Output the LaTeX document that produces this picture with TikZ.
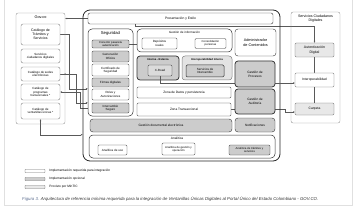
\documentclass[tikz,border=0pt]{standalone}
\usepackage{fontspec}
\setmainfont{Liberation Sans}
\usetikzlibrary{arrows.meta,backgrounds}

\definecolor{figblue}{RGB}{95,112,145}

\tikzset{
  box/.style={draw=black!80, rectangle, rounded corners=1.2pt, fill=white, align=center,
    inner sep=0pt, line width=0.4pt, font=\fontsize{3}{3.5}\selectfont},
  optbox/.style={box, fill=black!20},
  minticbox/.style={box, fill=black!9},
  heavy/.style={line width=0.75pt, rounded corners=3pt},
  groupbox/.style={draw=black!80, rectangle, rounded corners=4pt, line width=0.5pt},
  sidebox/.style={draw=black!45, rectangle, rounded corners=2pt, line width=0.35pt},
  sidecell/.style={box, draw=black!50, rounded corners=2pt},
  grouptitle/.style={anchor=north, inner sep=0pt, align=center, font=\fontsize{3.2}{3.8}\selectfont},
  link/.style={draw=black!65, line width=0.3pt},
}

\begin{document}
\begin{tikzpicture}[x=1pt, y=-1pt, >={Stealth[length=2pt,width=1.6pt]}]
    \useasboundingbox (0,0) rectangle (358,211);
    % Cadre de page
    \draw[black!12, line width=0.5pt] (4,0) -- (4,205) -- (352,205) -- (352,0);

    % Gov.co
    \node[sidebox, minimum width=49pt, minimum height=111pt] (gov) at (40.5,68.5) {};
    \node[grouptitle, font=\fontsize{3.8}{4.2}\selectfont] (govT) at ([yshift=-3pt]gov.north) {Gov.co};
    \node[sidecell, minimum width=39pt, minimum height=21pt, font=\fontsize{3.5}{4.2}\selectfont] (tram) at (40.5,34.5) {Catálogo de\\Trámites y\\Servicios};
    \node[sidecell, minimum width=39pt, minimum height=14pt] (scd) at (40.5,56) {Servicios\\ciudadanos digitales};
    \node[sidecell, minimum width=39pt, minimum height=14pt] (sedes) at (40.5,74) {Catálogo de sedes\\electrónicas};
    \node[sidecell, minimum width=39pt, minimum height=16pt] (prog) at (40.5,92) {Catálogo de\\programas\\transversales *};
    \node[sidecell, minimum width=39pt, minimum height=16pt] (vent) at (40.5,111) {Catálogo de\\ventanillas únicas *};

    % Servicios Ciudadanos Digitales
    \node[sidebox, minimum width=49pt, minimum height=111pt] (scdig) at (315.5,67.5) {};
    \node[grouptitle, font=\fontsize{3.6}{4.3}\selectfont] (scdigT) at ([yshift=-3pt]scdig.north) {Servicios Ciudadanos\\Digitales};
    \node[minticbox, draw=black!60, minimum width=39pt, minimum height=14pt, font=\fontsize{3.5}{4.2}\selectfont] (aut) at (314.5,50) {Autenticación\\Digital};
    \node[box, draw=black!60, minimum width=39pt, minimum height=14pt, font=\fontsize{3.3}{4}\selectfont] (iop) at (314.5,80) {Interoperabilidad};
    \node[minticbox, draw=black!60, minimum width=39pt, minimum height=12pt, font=\fontsize{3.3}{4}\selectfont] (carp) at (314.5,109) {Carpeta};

    % Plataforma
    \node[draw=black!85, rectangle, rounded corners=7pt, line width=0.8pt, minimum width=197pt, minimum height=151pt] (main) at (181.5,85.5) {};
    \node[box, rounded corners=2pt, minimum width=185pt, minimum height=11pt, font=\fontsize{3.3}{4}\selectfont] (pres) at (180.5,18.5) {Presentación y Estilo};

    % Seguridad
    \node[groupbox, minimum width=45pt, minimum height=87pt] (seg) at (110.5,72.5) {};
    \node[grouptitle, font=\fontsize{4.2}{5}\selectfont] (segT) at ([yshift=-2.5pt]seg.north) {Seguridad};
    \node[optbox, minimum width=37pt, minimum height=8pt, font=\fontsize{2.8}{3.2}\selectfont] (con) at (110.5,44) {Conector pasarela\\autenticación};
    \node[optbox, minimum width=37pt, minimum height=11pt] (gen) at (110.5,56.5) {Generación\\Oficios};
    \node[box, minimum width=37pt, minimum height=12pt] (cert) at (110.5,70) {Certificado de\\Seguridad};
    \node[optbox, minimum width=37pt, minimum height=9pt] (firm) at (110.5,82.5) {Firmas digitales};
    \node[box, minimum width=37pt, minimum height=11pt] (roles) at (110.5,94.5) {Roles y\\Autorizaciones};
    \node[optbox, minimum width=37pt, minimum height=10pt] (inter) at (110.5,108) {Intercambio\\Seguro};

    % Gestion de informacion
    \node[groupbox, minimum width=95pt, minimum height=23pt] (info) at (184.5,40.5) {};
    \node[grouptitle, font=\fontsize{3}{3.5}\selectfont] (infoT) at ([yshift=-2.5pt]info.north) {Gestión de información};
    \node[box, minimum width=35pt, minimum height=11pt] (dep) at (159.5,43.5) {Depósitos\\reales};
    \node[box, minimum width=31pt, minimum height=10pt, font=\fontsize{2.8}{3.3}\selectfont] (cons) at (210.5,43.5) {Consolidación\\personas};

    % Interoperabilidad
    \node[optbox, heavy, minimum width=42pt, minimum height=24pt] (ie) at (158,68) {};
    \node[grouptitle, font=\bfseries\fontsize{2.7}{3.2}\selectfont] (ieT) at ([yshift=-2.5pt]ie.north) {Interna - Externa};
    \node[optbox, fill=black!14, minimum width=24pt, minimum height=11pt] (xroad) at (160,70.5) {X-Road};
    \draw[link, ->] (xroad.south) |- ([yshift=-3pt]iop.west);
    \node[box, fill=black!11, draw=black!50, rounded corners=3pt, line width=0.5pt, minimum width=50pt, minimum height=24pt] (ii) at (207,68) {};
    \node[grouptitle, font=\bfseries\fontsize{2.7}{3.2}\selectfont] (iiT) at ([yshift=-2.5pt]ii.north) {Interoperabilidad Interna};
    \node[optbox, line width=0.5pt, minimum width=38pt, minimum height=12pt] (sint) at (205,71) {Servicios de\\Intercambio};

    % Zonas
    \node[box, minimum width=94pt, minimum height=11pt, font=\fontsize{3.2}{4}\selectfont] (datos) at (184,92.5) {Zona de Datos y persistencia};
    \node[box, minimum width=94pt, minimum height=13pt, font=\fontsize{3.2}{4}\selectfont] (trans) at (184,109.5) {Zona Transaccional};
    \node[optbox, rounded corners=3pt, minimum width=142pt, minimum height=13pt, font=\fontsize{3.2}{4}\selectfont] (gdoc) at (161,125.5) {Gestión documental electrónica};

    % Columna derecha
    \node[box, rounded corners=3pt, minimum width=41pt, minimum height=27pt, font=\fontsize{3.8}{5}\selectfont] (admin) at (255.5,42.5) {Administrador\\de Contenidos};
    \node[optbox, heavy, minimum width=40pt, minimum height=26pt, font=\fontsize{3.2}{4}\selectfont] (proc) at (255,74) {Gestión de\\Procesos};
    \node[optbox, heavy, minimum width=40pt, minimum height=25pt, font=\fontsize{3.2}{4}\selectfont] (aud) at (255,101.5) {Gestión de\\Auditoría};
    \node[optbox, rounded corners=3pt, minimum width=40pt, minimum height=14pt, font=\fontsize{3.2}{4}\selectfont] (notif) at (255,125) {Notificaciones};

    % Analitica
    \node[groupbox, minimum width=186pt, minimum height=23pt] (anal) at (182,146.5) {};
    \node[grouptitle] (analT) at ([xshift=-5pt, yshift=-2pt]anal.north) {Analítica};
    \node[box, minimum width=29pt, minimum height=10pt] (uso) at (112.5,150) {Analítica de uso};
    \node[box, minimum width=33pt, minimum height=12pt, font=\fontsize{2.8}{3.3}\selectfont] (ages) at (178.5,149) {Analítica de gestión y\\operación};
    \node[optbox, minimum width=41pt, minimum height=10pt, font=\fontsize{2.8}{3.3}\selectfont] (atys) at (249.5,150) {Analítica de trámites y\\servicios};

    % Relaciones
    \begin{scope}[on background layer]
        \draw[link, ->] (pres.west) -- (pres.west -| gov.east);
        \draw[link, ->] (tram.east) -- ++(9,0) |- (seg.west |- roles.north);
        \draw[link, ->] (sedes.east) -- ++(16,0) |- (seg.west |- inter.north);
        \draw[link, <-] (prog.east) -- ++(20,0) |- (seg.west |- inter.east);
        \draw[link, <->] (vent.south) |- (main.west |- anal.north);
        \draw[link] (con.east) -- (con.east -| info.west);
        \draw[link, ->] ([xshift=-45.5pt]pres.south) -- ++(0,2) -| (aut.north);
        \draw[link, ->] (trans.east) -- ++(54,0) |- ([yshift=-3pt]carp.west);
        \draw[link] (aut.south) -- (iop.north);
        \draw[link] (iop.south) -- (carp.north);
    \end{scope}
    \fill[black!65] (sedes.east -| gov.east) circle (0.7pt);

    % Leyenda
    \node[box, draw=black!55, rounded corners=0.5pt, minimum width=20pt, minimum height=3pt] (leg1) at (35,171) {};
    \node[anchor=west, inner sep=0pt, font=\fontsize{3.2}{4}\selectfont] (leg1T) at ([xshift=4pt]leg1.east) {Implementación requerida para integración};
    \node[optbox, draw=black!55, rounded corners=0.5pt, minimum width=20pt, minimum height=3pt] (leg2) at (35,179) {};
    \node[anchor=west, inner sep=0pt, font=\fontsize{3.2}{4}\selectfont] (leg2T) at ([xshift=4pt]leg2.east) {Implementación opcional};
    \node[minticbox, draw=black!55, rounded corners=0.5pt, minimum width=20pt, minimum height=3pt] (leg3) at (35,187) {};
    \node[anchor=west, inner sep=0pt, font=\fontsize{3.2}{4}\selectfont] (leg3T) at ([xshift=4pt]leg3.east) {Provisto por MinTIC};

    % Leyenda de figura
    \node[anchor=west, inner sep=0pt, text=black!80, font=\itshape\fontsize{4.3}{5}\selectfont] (cap) at (22,199) {\textcolor{figblue}{Figura 3.} Arquitectura de referencia mínima requerida para la integración de Ventanillas Únicas Digitales al Portal Único del Estado Colombiano - GOV.CO.};
\end{tikzpicture}
\end{document}
